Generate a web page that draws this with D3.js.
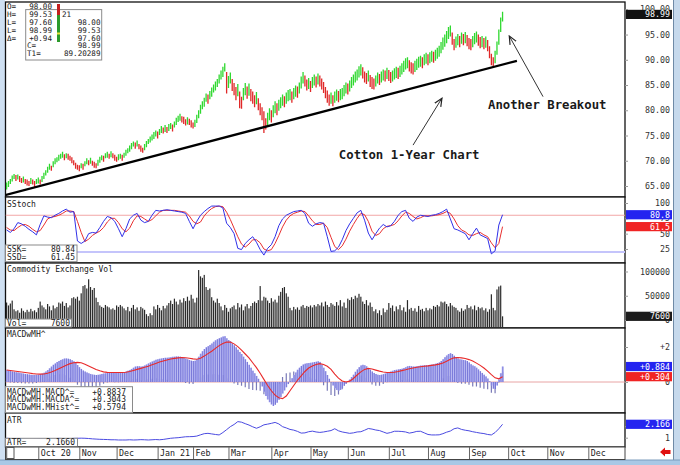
<!DOCTYPE html>
<html><head><meta charset="utf-8">
<script src="https://cdn.jsdelivr.net/npm/d3@7"></script>
<style>
body{margin:0;background:#fff;}
svg{display:block;font-family:"DejaVu Sans Mono",monospace;}
</style>
</head><body>
<svg id="c" width="680" height="465"></svg>
<script>
// ---------------- DATA ----------------
const priceHigh = [
65.7,66.0,66.4,67.1,67.4,67.2,67.3,67.0,66.6,66.9,
66.4,66.3,66.0,66.6,66.3,66.0,66.4,66.7,66.3,67.0,
67.6,68.1,68.8,69.4,69.0,69.9,70.5,70.7,71.2,71.4,
71.8,71.3,71.5,71.4,71.0,70.7,70.1,69.6,69.2,69.1,
69.5,69.4,69.9,70.5,70.1,70.6,70.0,69.8,69.5,70.2,
70.8,71.1,71.0,71.5,71.8,71.4,71.9,71.5,71.2,70.8,
71.3,71.4,71.2,71.6,72.2,72.5,73.0,73.5,73.8,73.6,
74.0,73.3,73.0,72.6,73.3,73.9,74.3,74.8,75.2,75.7,
76.0,75.8,76.3,76.9,76.6,77.1,76.7,77.3,77.5,77.2,
77.8,78.5,78.9,79.3,78.8,78.7,78.2,78.6,78.3,78.0,
77.6,78.1,79.1,80.0,81.1,81.8,82.5,83.3,83.1,83.8,
84.5,85.1,85.7,86.2,87.1,87.9,88.6,89.3,87.6,86.8,
87.5,86.2,85.4,84.6,85.2,83.7,82.7,84.4,85.4,84.7,
85.3,84.2,83.7,83.0,83.6,82.4,81.4,80.6,79.8,78.4,
79.5,80.4,80.0,81.0,81.8,81.4,82.1,82.6,83.1,82.8,
83.5,84.0,84.2,83.7,84.4,84.9,84.7,85.5,86.7,87.6,
86.9,86.1,86.4,85.8,86.6,87.1,86.7,87.3,86.9,86.3,
85.6,84.6,83.9,83.1,83.5,83.0,83.7,84.1,83.8,84.2,
84.4,85.0,85.5,85.3,85.9,86.6,87.1,87.7,88.1,88.7,
89.1,88.5,87.7,87.4,87.9,87.0,86.6,86.3,86.9,87.5,
87.2,87.7,88.1,87.9,88.4,88.0,87.6,87.9,88.3,88.6,
88.4,88.8,89.3,89.8,90.3,90.5,89.9,89.5,89.3,89.8,
90.2,90.6,90.8,90.5,91.1,91.4,91.1,91.5,91.8,91.6,
92.0,92.4,92.8,93.5,94.4,95.0,95.7,96.5,96.8,95.4,
94.1,94.6,95.1,94.7,95.4,95.1,95.5,94.9,94.3,94.1,
94.7,95.3,95.6,95.0,94.5,94.7,94.3,94.6,93.9,92.7,
91.2,90.5,91.8,93.6,96.0,98.4,99.53];
const priceLow = [
64.3,64.8,65.4,65.9,66.4,66.0,66.3,65.8,65.6,65.7,
65.4,65.1,65.0,65.4,65.3,64.8,65.4,65.5,65.3,65.8,
66.4,67.1,67.6,68.2,68.0,68.7,69.3,69.7,70.0,70.4,
70.6,70.1,70.5,70.2,70.0,69.5,69.1,68.4,68.2,67.9,
68.5,68.2,68.9,69.3,69.1,69.4,69.0,68.6,68.5,69.0,
69.6,70.1,69.8,70.5,70.6,70.4,70.7,70.5,70.0,69.8,
70.1,70.4,70.0,70.6,71.0,71.5,71.8,72.3,72.8,72.4,
72.8,72.3,71.8,71.6,72.1,72.7,73.3,73.6,74.0,74.3,
74.8,74.4,75.1,75.5,75.4,75.7,75.5,75.9,76.3,75.8,
76.6,77.1,77.7,77.9,77.6,77.3,77.0,77.2,77.1,76.6,
76.4,76.7,77.5,78.4,79.3,80.2,80.7,81.7,81.3,82.2,
82.7,83.5,83.9,84.6,85.3,86.1,86.6,87.7,83.3,84.4,
85.3,83.8,83.0,82.0,82.8,80.4,80.3,82.0,83.0,82.3,
82.9,81.8,81.3,80.6,81.2,80.0,79.0,78.0,75.5,76.2,
77.0,78.0,77.6,78.6,79.4,79.0,79.9,80.4,80.9,80.6,
81.3,81.8,82.0,81.5,82.2,82.7,82.5,83.3,84.3,85.3,
84.7,83.9,84.2,83.6,84.4,84.9,84.5,85.1,84.7,84.1,
83.4,82.4,81.5,80.9,81.3,80.8,81.5,81.9,81.6,82.0,
82.2,82.8,83.3,83.1,83.7,84.4,84.9,85.5,85.9,86.5,
86.9,86.3,85.5,85.2,85.7,84.6,84.2,84.1,84.7,85.3,
85.0,85.5,85.9,85.7,86.2,85.8,85.4,85.7,86.1,86.4,
86.2,86.6,87.1,87.6,88.1,88.3,87.7,87.3,87.1,87.6,
88.0,88.4,88.6,88.3,88.9,89.2,88.9,89.3,89.6,89.4,
89.8,90.2,90.6,91.3,92.0,92.6,93.3,94.1,94.6,93.0,
91.9,92.4,92.9,92.5,93.2,92.9,93.3,92.7,92.1,91.9,
92.5,93.1,93.4,92.8,92.3,92.5,92.1,92.4,91.7,90.3,
88.9,88.6,89.3,91.0,93.0,95.5,97.6];
// volume, thousands of contracts
const volume = [
36,30,34,40,
22,18,20,15,24,19,16,21,17,23,18,20,16,
25,38,30,
26,22,33,28,20,30,24,27,
36,34,38,29,35,26,30,
45,47,44,48,40,
55,70,72,65,84,68,62,66,46,37,
30,27,25,31,28,26,22,24,21,
30,27,31,28,
24,20,27,18,25,31,22,26,19,27,24,21,
12,8,14,10,
28,22,31,25,20,29,24,30,
35,40,33,44,38,32,42,36,45,39,
48,40,52,44,36,46,
103,90,87,93,68,62,65,
47,40,36,44,35,
28,20,31,25,17,24,27,
30,22,35,26,32,20,28,33,24,29,35,
38,35,41,70,40,48,46,
40,35,45,38,42,36,
50,58,66,68,55,48,
25,20,27,22,26,21,
28,31,25,29,27,30,26,31,28,
33,30,36,28,38,31,27,35,32,29,37,30,
41,28,36,25,
44,41,47,43,50,46,54,48,
38,33,41,30,36,27,
18,22,14,20,10,24,16,21,
35,25,30,18,28,22,31,20,26,17,
41,
22,25,19,24,17,29,21,23,18,25,20,24,22,
29,27,31,28,38,36,38,
33,28,35,30,27,25,
20,17,24,19,22,
31,25,28,22,30,20,27,24,26,
20,24,17,22,
53,25,20,63,69,71,7.6];
const macd = [
0.69,0.66,0.63,0.60,0.58,0.56,0.55,
0.53,0.50,0.48,0.46,0.45,0.43,0.41,0.40,0.40,0.41,0.42,0.44,
0.48,0.53,0.60,0.68,0.78,0.88,0.98,
1.06,1.14,1.20,1.26,1.30,1.34,1.35,
1.33,1.30,1.25,1.18,1.08,0.97,
0.85,0.75,0.66,0.60,0.55,
0.50,0.46,0.43,0.41,0.40,0.41,0.43,
0.46,0.48,0.50,0.52,0.53,0.54,0.54,0.53,0.52,0.52,0.53,0.55,0.57,0.60,0.64,0.69,0.75,0.82,
0.88,0.90,0.90,0.88,0.90,0.95,1.00,
1.06,1.12,1.17,1.22,1.27,1.30,1.33,
1.35,1.37,1.38,1.39,1.40,1.42,1.44,1.45,1.46,1.46,1.45,1.42,1.38,1.34,1.30,
1.26,1.22,1.20,1.22,1.30,1.45,1.62,
1.76,1.88,1.98,2.05,2.12,2.20,2.30,
2.38,2.45,2.50,2.55,2.60,2.62,
2.50,2.40,2.33,2.22,2.10,
1.98,1.85,1.72,1.60,1.45,1.30,1.15,0.98,0.82,
0.65,0.50,0.35,0.18,0.00,
-0.25,-0.55,-0.80,-1.00,-1.15,-1.28,-1.37,
-1.30,-1.18,-1.02,-0.85,-0.66,-0.48,-0.30,-0.12,0.05,
0.22,0.40,0.55,0.70,0.82,
0.92,1.00,1.05,1.07,1.08,1.10,1.12,1.14,1.16,1.18,1.15,
1.00,0.82,0.62,0.40,0.18,-0.02,
-0.20,-0.35,-0.45,-0.50,-0.45,
-0.35,-0.22,-0.10,0.02,0.15,
0.28,0.42,0.58,0.72,0.85,0.95,
0.98,0.96,0.90,
0.80,0.70,0.60,0.52,0.46,0.42,0.40,0.42,0.45,0.48,0.52,0.56,0.60,
0.64,0.68,0.70,0.72,0.74,0.76,0.80,0.85,0.90,
0.92,0.90,0.88,0.88,0.90,0.92,0.94,0.95,0.96,0.96,0.97,0.98,1.00,1.02,1.05,1.08,1.12,
1.20,1.30,1.42,1.52,1.60,1.65,1.60,1.50,
1.40,1.35,1.30,1.28,1.26,1.24,1.20,
1.12,1.02,0.95,0.90,0.82,0.72,0.62,
0.52,0.42,0.32,0.20,0.05,
-0.20,-0.38,-0.40,-0.20,0.15,0.50,0.884];
// the line studies below are read every second session
const lineStep = 2;
const macdSignal = [
0.69,0.66,0.63,0.60,0.57,0.54,0.51,0.48,0.46,0.45,
0.46,0.50,0.57,0.66,0.76,0.86,0.96,1.05,1.10,1.12,
1.10,1.02,0.92,0.82,0.72,0.64,0.58,0.55,0.54,0.54,
0.54,0.54,0.56,0.60,0.66,0.72,0.78,0.84,0.90,0.98,
1.06,1.14,1.20,1.26,1.31,1.35,1.38,1.40,1.39,1.36,
1.32,1.30,1.36,1.48,1.62,1.76,1.92,2.08,2.20,2.28,
2.28,2.18,2.02,1.82,1.60,1.38,1.10,0.82,0.50,0.15,
-0.20,-0.50,-0.75,-0.90,-0.95,-0.80,-0.50,-0.20,0.10,0.35,
0.60,0.80,0.92,1.00,1.05,1.00,0.90,0.72,0.45,0.22,
0.06,0.00,0.05,0.20,0.40,0.58,0.72,0.78,0.74,0.68,
0.62,0.57,0.54,0.54,0.56,0.60,0.65,0.70,0.76,0.80,
0.84,0.87,0.90,0.92,0.95,0.98,1.02,1.08,1.18,1.30,
1.38,1.40,1.38,1.34,1.28,1.20,1.08,0.95,0.80,0.62,
0.42,0.24,0.18,0.304];
const stochK = [
56,52,58,68,66,62,57,53,48,65,
79,77,76,80,83,87,90,85,86,38,
34,38,50,52,51,60,70,78,76,70,
58,45,58,74,80,83,72,68,70,80,
88,87,88,89,88,87,86,85,83,70,
58,70,80,86,91,95,95,95,92,67,
60,50,26,24,34,40,45,36,24,15,
26,32,45,63,74,80,83,86,87,88,
83,67,62,66,68,67,45,21,22,28,
40,55,66,75,84,88,72,51,40,50,
59,65,61,63,70,80,86,88,75,70,
77,80,79,78,80,81,83,86,90,74,
58,56,53,50,40,50,59,48,45,42,
17,22,64,80.84];
const stochD = [
60,56,55,60,64,65,62,57,53,55,
64,74,77,78,80,83,87,87,86,70,
52,37,41,47,51,54,60,69,75,75,
68,58,53,59,71,79,78,74,70,73,
79,85,88,88,88,88,87,86,85,79,
70,66,69,79,86,91,94,95,94,85,
73,59,45,33,28,33,40,40,35,25,
22,24,34,47,61,72,79,83,85,87,
86,79,71,65,65,67,60,44,29,24,
30,41,54,65,75,83,81,70,54,47,
50,58,62,63,65,71,79,85,83,78,
74,76,79,79,79,80,81,83,86,83,
74,63,56,53,48,47,50,52,48,45,
35,27,34,61.45];
const atr = [
0.95,0.93,0.92,0.90,0.90,0.88,0.87,0.88,0.90,0.92,
0.90,0.88,0.90,0.92,0.94,0.93,0.90,0.92,0.94,0.95,
0.96,0.95,0.93,0.90,0.88,0.86,0.85,0.84,0.82,0.82,
0.80,0.80,0.80,0.82,0.80,0.81,0.83,0.82,0.80,0.82,
0.84,0.82,0.85,0.90,0.95,0.98,1.00,1.04,1.08,1.09,
1.10,1.14,1.25,1.35,1.38,1.33,1.28,1.24,1.45,1.70,
1.96,2.15,2.40,2.35,2.22,2.10,1.95,1.82,1.95,2.12,
2.18,2.25,2.33,2.20,1.96,1.85,1.72,1.66,1.55,1.40,
1.42,1.52,1.57,1.50,1.46,1.50,1.56,1.62,1.78,1.60,
1.50,1.44,1.38,1.42,1.50,1.52,1.65,1.80,1.75,1.67,
1.62,1.50,1.38,1.45,1.56,1.56,1.54,1.50,1.40,1.46,
1.55,1.56,1.42,1.28,1.24,1.24,1.25,1.35,1.48,1.58,
1.78,1.85,1.72,1.65,1.60,1.52,1.46,1.40,1.36,1.28,
1.24,1.45,1.78,2.166];
const monthLabels = ["Oct 20","Nov","Dec","Jan 21","Feb","Mar","Apr","May","Jun","Jul","Aug","Sep","Oct","Nov","Dec"];
const monthStartSession = [17,39,59,81,100,119,142,163,183,205,226,248,269,290,312];
const priceTicks = [65,70,75,80,85,90,95,100];
const stochTicks = [25,50,75,100];
const volTicks = [0,50,100];
const macdTicks = [0,2];
const atrTicks = [1,2];
const trendLine = [[-0.9,63.2],[273.7,89.8]];
const notes = [
  {text:"Cotton 1-Year Chart", at:[178.2,70.3], tail:[218.0,73.1], head:[233.5,82.4]},
  {text:"Another Breakout", at:[258.2,80.2], tail:[287.7,82.7], head:[269.6,94.7]}
];
const quote = {O:"98.00",H:"99.53",L:"97.60",C:"98.99",D:"+0.94",T1:"89.20289",n:"21"};

// ---------------- LAYOUT ----------------
const svg = d3.select("#c");
const L = 5.5, R = 625;
const P = {price:[2,197], stoch:[197,263], vol:[263,328], macd:[328,413], atr:[413,447]};
const x = d3.scaleLinear().domain([0,332]).range([6.6, 6.6+332*1.8645]);
const yP = d3.scaleLinear().domain([65,100]).range([186,9.3]);
const yS = d3.scaleLinear().domain([0,100]).range([264.3,203]);
const yV = d3.scaleLinear().domain([0,100]).range([320,271.5]);
const yM = d3.scaleLinear().domain([0,2]).range([382,347]);
const yA = d3.scaleLinear().domain([1,2.166]).range([437.7,424.3]);

const GREEN="#2fd82f", RED="#e02828", GRAY="#808080", BLUE="#3030e8";

svg.append("rect").attr("width",680).attr("height",465).attr("fill","#fff");
// window frame
svg.append("rect").attr("x",0).attr("y",0).attr("width",5).attr("height",465).attr("fill","#cfe0f2");
svg.append("rect").attr("x",673).attr("y",0).attr("width",7).attr("height",465).attr("fill","#c6d9ec");
svg.append("line").attr("x1",673.5).attr("x2",673.5).attr("y1",0).attr("y2",465).attr("stroke","#6f8aa6");
svg.append("rect").attr("x",0).attr("y",460).attr("width",680).attr("height",5).attr("fill","#a9c8e6");
svg.append("line").attr("x1",0).attr("x2",680).attr("y1",460).attr("y2",460).attr("stroke","#7c9cbd");

// panels
Object.values(P).forEach(([t,b])=>{
  svg.append("rect").attr("x",L).attr("y",t).attr("width",R-L).attr("height",b-t)
    .attr("fill","#fff").attr("stroke","#111").attr("stroke-width",1.3);
});
svg.append("defs").selectAll("clipPath").data(Object.entries(P)).join("clipPath")
  .attr("id",d=>"clip-"+d[0]).append("rect")
  .attr("x",L).attr("y",d=>d[1][0]).attr("width",R-L).attr("height",d=>d[1][1]-d[1][0]);

// ---------- price ----------
const idx = d3.range(priceHigh.length);
const mid = idx.map(i=>(priceHigh[i]+priceLow[i])/2);
const barColor = i => { if(i===0) return GREEN; const d = mid[i]-mid[i-1]; return Math.abs(d)<0.12?GRAY:(d>0?GREEN:RED); };
const gp = svg.append("g").attr("clip-path","url(#clip-price)");
gp.selectAll("line.bar").data(idx).join("line").attr("class","bar")
  .attr("x1",i=>x(i)).attr("x2",i=>x(i))
  .attr("y1",i=>yP(priceHigh[i])).attr("y2",i=>yP(priceLow[i]))
  .attr("stroke",barColor).attr("stroke-width",1.3);
gp.append("path").datum(trendLine)
  .attr("d",d3.line().x(d=>x(d[0])).y(d=>yP(d[1])))
  .attr("stroke","#000").attr("stroke-width",2.3).attr("fill","none");

svg.select("defs").append("marker").attr("id","ah").attr("viewBox","0 0 10 10")
  .attr("refX",9).attr("refY",5).attr("markerWidth",9).attr("markerHeight",9)
  .attr("markerUnits","userSpaceOnUse").attr("orient","auto")
  .append("path").attr("d","M0,1 L9,5 L0,9").attr("fill","none").attr("stroke","#222").attr("stroke-width",1.3);
notes.forEach(n=>{
  svg.append("line").attr("x1",x(n.tail[0])).attr("y1",yP(n.tail[1]))
    .attr("x2",x(n.head[0])).attr("y2",yP(n.head[1]))
    .attr("stroke","#333").attr("stroke-width",1).attr("marker-end","url(#ah)");
  svg.append("text").attr("x",x(n.at[0])).attr("y",yP(n.at[1])).text(n.text)
    .attr("font-size",12.3).attr("font-weight","bold").attr("fill","#1a1a1a");
});

// quote box
const tq = (t,xx,yy,anchor,fs)=>svg.append("text").attr("x",xx).attr("y",yy).text(t)
  .attr("font-size",fs||8).attr("fill","#222").attr("text-anchor",anchor||"start");
svg.append("rect").attr("x",25.7).attr("y",9.6).attr("width",76).attr("height",50.4)
  .attr("fill","#fff").attr("stroke","#8a8a8a");
[["O=",quote.O,8.6],["H=",quote.H,16.8],["L=",quote.L,25.1],["L=",quote.C,32.8],["\u0394=",quote.D,41.1]]
  .forEach(r=>{tq(r[0],7,r[2],"start",7.6); tq(r[1],52,r[2],"end",7.6);});
svg.append("rect").attr("x",57).attr("y",4).attr("width",3).attr("height",11).attr("fill","#c42020");
svg.append("rect").attr("x",57).attr("y",15).attr("width",3).attr("height",27).attr("fill","#2c9a2c");
svg.append("rect").attr("x",57).attr("y",32.5).attr("width",3).attr("height",2).attr("fill","#e6e040");
tq(quote.n,62,16.8,"start",7.6);
[[quote.O,25.1],[quote.H,32.8],[quote.L,41.1],[quote.C,48.2],[quote.T1,55.8]].forEach(r=>tq(r[0],100.5,r[1],"end",7.6));
tq("C=",27,48.2,"start",7.6); tq("T1=",27,55.8,"start",7.6);

// ---------- stochastics ----------
const gs = svg.append("g").attr("clip-path","url(#clip-stoch)");
gs.append("line").attr("x1",L).attr("x2",R).attr("y1",yS(80)).attr("y2",yS(80)).attr("stroke","#f2a6a6").attr("stroke-width",1);
gs.append("line").attr("x1",L).attr("x2",R).attr("y1",yS(20)).attr("y2",yS(20)).attr("stroke","#c4c4fb").attr("stroke-width",2);
const lineOf = (arr,ys)=>d3.line().x((d,i)=>x(i*lineStep)).y(d=>ys(d))(arr);
gs.append("path").attr("d",lineOf(stochD,yS)).attr("stroke","#e83030").attr("fill","none").attr("stroke-width",1);
gs.append("path").attr("d",lineOf(stochK,yS)).attr("stroke",BLUE).attr("fill","none").attr("stroke-width",1);
tq("SStoch",7,207);

// ---------- volume ----------
const gv = svg.append("g").attr("clip-path","url(#clip-vol)");
gv.selectAll("rect").data(idx).join("rect")
  .attr("x",i=>x(i)-0.6).attr("width",1.2)
  .attr("y",i=>yV(volume[i])).attr("height",i=>P.vol[1]-yV(volume[i]))
  .attr("fill","#2a2a2a");
tq("Commodity Exchange Vol",7,272);

// ---------- MACD ----------
const gm = svg.append("g").attr("clip-path","url(#clip-macd)");
gm.append("line").attr("x1",L).attr("x2",R).attr("y1",yM(0)).attr("y2",yM(0)).attr("stroke","#e8a4a4");
gm.selectAll("line.h").data(macdSignal).join("line").attr("class","h")
  .attr("x1",(d,k)=>x(k*lineStep)).attr("x2",(d,k)=>x(k*lineStep))
  .attr("y1",yM(0)).attr("y2",(d,k)=>yM(macd[k*lineStep]-d))
  .attr("stroke","#7a7ab8").attr("stroke-width",1.2);
gm.selectAll("line.m").data(idx).join("line").attr("class","m")
  .attr("x1",i=>x(i)).attr("x2",i=>x(i)).attr("y1",yM(0)).attr("y2",i=>yM(macd[i]))
  .attr("stroke","#aeaef5").attr("stroke-width",1.6);
gm.selectAll("line.md").data(idx).join("line").attr("class","md")
  .attr("x1",i=>x(i)+0.4).attr("x2",i=>x(i)+0.4).attr("y1",yM(0)).attr("y2",i=>yM(macd[i]))
  .attr("stroke","#5050c4").attr("stroke-width",0.6);
gm.append("path").attr("d",lineOf(macdSignal,yM)).attr("stroke","#e82a2a").attr("fill","none").attr("stroke-width",1.1);
tq("MACDwMH^",7,337);

// ---------- ATR ----------
const ga = svg.append("g").attr("clip-path","url(#clip-atr)");
ga.append("path").attr("d",lineOf(atr,yA)).attr("stroke","#4a4ae0").attr("fill","none").attr("stroke-width",1);
tq("ATR",7,423);

// info boxes
const box = (xx,yy,w,h)=>svg.append("rect").attr("x",xx).attr("y",yy).attr("width",w).attr("height",h)
  .attr("fill","#fff").attr("stroke","#8a8a8a");
box(L,245,71.5,16.7); tq("SSK=",7,252); tq(stochK[stochK.length-1].toFixed(2),75,252,"end");
tq("SSD=",7,260.4); tq(stochD[stochD.length-1].toFixed(2),75,260.4,"end");
box(L,319,66,8); tq("Vol=",7,326); tq(d3.format("d")(volume[volume.length-1]*1000),70,326,"end");
box(L,386.7,127,26);
const lastM = macd[macd.length-1], lastS = macdSignal[macdSignal.length-1];
[["MACDwMH.MACD^=","+0.8837",394.5],["MACDwMH.MACDA^=","+0.3043",402.4],["MACDwMH.MHist^=","+0.5794",410.2]]
  .forEach(r=>{tq(r[0],7,r[2]); tq(r[1],126,r[2],"end");});
box(L,438.3,72,8.4); tq("ATR=",7,445.4); tq("2.1660",75,445.4,"end");

// ---------- right axes ----------
function rightAxis(scale,ticks,fmt){
  const g = svg.append("g").attr("transform",`translate(${R},0)`)
    .call(d3.axisRight(scale).tickValues(ticks).tickFormat(fmt).tickSize(3));
  g.select(".domain").remove();
  g.selectAll(".tick line").attr("stroke","#999");
  g.selectAll(".tick text").attr("x",45).attr("text-anchor","end")
    .attr("font-family","DejaVu Sans Mono").attr("font-size",8.3).attr("fill","#333");
}
rightAxis(yP,priceTicks,d3.format(".2f"));
rightAxis(yS,stochTicks,d3.format("d"));
rightAxis(yV,volTicks,d=>d3.format("d")(d*1000));
rightAxis(yM,macdTicks,d=>d>0?"+"+d:String(d));
rightAxis(yA,atrTicks,d3.format("d"));

function valueBox(yy,txt,fill){
  svg.append("rect").attr("x",626).attr("y",yy-4.6).attr("width",46).attr("height",9.2).attr("fill",fill);
  svg.append("text").attr("x",670).attr("y",yy+3).attr("text-anchor","end").text(txt)
    .attr("font-size",8.3).attr("fill","#fff");
}
valueBox(yP(98.99),"98.99","#111");
valueBox(yS(stochK[stochK.length-1]),"80.8","#2424f0");
valueBox(yS(stochD[stochD.length-1]),"61.5","#f02424");
valueBox(yV(volume[volume.length-1]),"7600","#1c1c1c");
valueBox(yM(lastM),"+0.884","#2424f0");
valueBox(yM(lastS),"+0.304","#f02424");
valueBox(yA(2.166),"2.166","#2424f0");

// ---------- date axis ----------
svg.append("rect").attr("x",L).attr("y",447).attr("width",R-L).attr("height",12.5).attr("fill","#fff").attr("stroke","#444");
const gx = svg.append("g").attr("transform","translate(0,447)")
  .call(d3.axisBottom(x).tickValues(monthStartSession).tickFormat((d,i)=>monthLabels[i]).tickSize(12).tickSizeOuter(0));
gx.select(".domain").remove();
gx.selectAll(".tick line").attr("stroke","#666");
gx.selectAll(".tick text").attr("x",2).attr("y",3.2).attr("dy","0.7em").attr("text-anchor","start")
  .attr("font-family","DejaVu Sans Mono").attr("font-size",8.3).attr("fill","#222");
svg.append("rect").attr("x",6.7).attr("y",447.5).attr("width",7.3).attr("height",11).attr("fill","#fff").attr("stroke","#555");
svg.append("path").attr("d","M660,452 L665,447.5 L665,450 L670.5,450 L670.5,454 L665,454 L665,456.5 Z").attr("fill","#e01010");
</script>
</body></html>
